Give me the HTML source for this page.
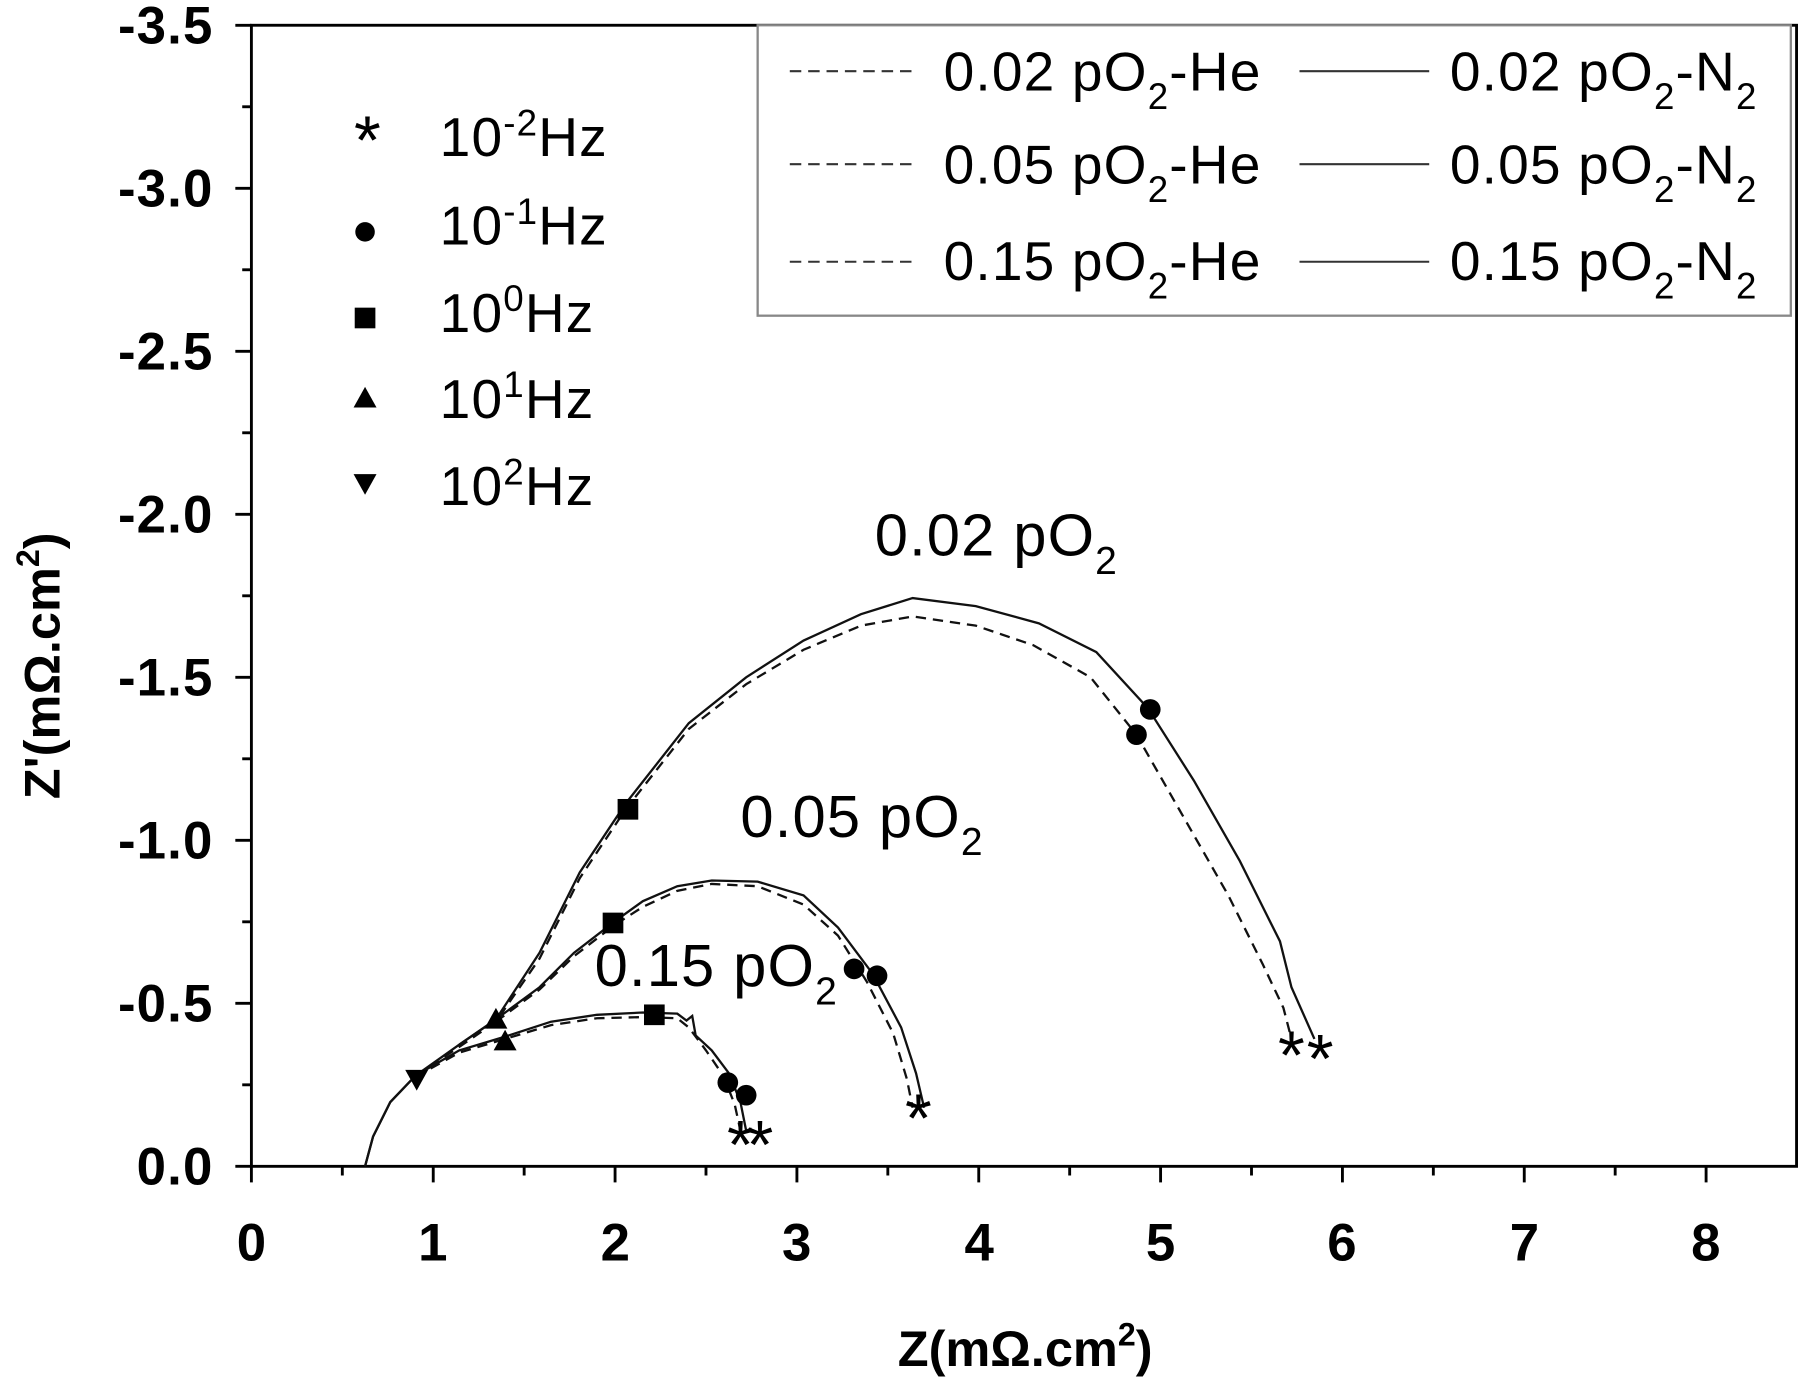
<!DOCTYPE html>
<html><head><style>html,body{margin:0;padding:0;background:#fff}svg{display:block}</style></head><body>
<svg width="1800" height="1381" viewBox="0 0 1568 1203" xmlns="http://www.w3.org/2000/svg" font-family="Liberation Sans, Arial, sans-serif">
<rect width="1568" height="1203" fill="#fff"/>
<rect x="219" y="22" width="1346" height="994" fill="none" stroke="#000" stroke-width="2.5"/>
<g stroke="#000" stroke-width="2.5">
<line x1="219" y1="1016" x2="219" y2="1030"/><line x1="377.4" y1="1016" x2="377.4" y2="1030"/><line x1="535.8" y1="1016" x2="535.8" y2="1030"/><line x1="694.2" y1="1016" x2="694.2" y2="1030"/><line x1="852.6" y1="1016" x2="852.6" y2="1030"/><line x1="1011" y1="1016" x2="1011" y2="1030"/><line x1="1169.4" y1="1016" x2="1169.4" y2="1030"/><line x1="1327.8" y1="1016" x2="1327.8" y2="1030"/><line x1="1486.2" y1="1016" x2="1486.2" y2="1030"/>
<line x1="298.2" y1="1016" x2="298.2" y2="1024"/><line x1="456.6" y1="1016" x2="456.6" y2="1024"/><line x1="615" y1="1016" x2="615" y2="1024"/><line x1="773.4" y1="1016" x2="773.4" y2="1024"/><line x1="931.8" y1="1016" x2="931.8" y2="1024"/><line x1="1090.2" y1="1016" x2="1090.2" y2="1024"/><line x1="1248.6" y1="1016" x2="1248.6" y2="1024"/><line x1="1407" y1="1016" x2="1407" y2="1024"/>
<line x1="205" y1="1016" x2="219" y2="1016"/><line x1="205" y1="874" x2="219" y2="874"/><line x1="205" y1="732" x2="219" y2="732"/><line x1="205" y1="590" x2="219" y2="590"/><line x1="205" y1="448" x2="219" y2="448"/><line x1="205" y1="306" x2="219" y2="306"/><line x1="205" y1="164" x2="219" y2="164"/><line x1="205" y1="22" x2="219" y2="22"/>
<line x1="211" y1="945" x2="219" y2="945"/><line x1="211" y1="803" x2="219" y2="803"/><line x1="211" y1="661" x2="219" y2="661"/><line x1="211" y1="519" x2="219" y2="519"/><line x1="211" y1="377" x2="219" y2="377"/><line x1="211" y1="235" x2="219" y2="235"/><line x1="211" y1="93" x2="219" y2="93"/>
</g>
<g font-size="46" font-weight="bold" text-anchor="end" letter-spacing="1">
<text x="186" y="1032">0.0</text><text x="186" y="890">-0.5</text><text x="186" y="748">-1.0</text><text x="186" y="606">-1.5</text><text x="186" y="464">-2.0</text><text x="186" y="322">-2.5</text><text x="186" y="180">-3.0</text><text x="186" y="38">-3.5</text>
</g>
<g font-size="46" font-weight="bold" text-anchor="middle">
<text x="219" y="1098">0</text><text x="377" y="1098">1</text><text x="536" y="1098">2</text><text x="694" y="1098">3</text><text x="853" y="1098">4</text><text x="1011" y="1098">5</text><text x="1169" y="1098">6</text><text x="1328" y="1098">7</text><text x="1486" y="1098">8</text>
<text x="893" y="1190" font-size="44">Z(mΩ.cm<tspan font-size="28" dy="-18">2</tspan><tspan dy="18">)</tspan></text>
<text transform="translate(52,580) rotate(-90)" font-size="44">Z'(mΩ.cm<tspan font-size="28" dy="-18">2</tspan><tspan dy="18">)</tspan></text>
</g>
<rect x="660" y="22" width="900" height="253" fill="#fff" stroke="#888" stroke-width="2"/>
<g stroke="#333" stroke-width="1.8">
<line x1="688" y1="62" x2="800" y2="62" stroke-dasharray="10,6"/><line x1="688" y1="143" x2="800" y2="143" stroke-dasharray="10,6"/><line x1="688" y1="228" x2="800" y2="228" stroke-dasharray="10,6"/>
<line x1="1132" y1="62" x2="1245" y2="62"/><line x1="1132" y1="143" x2="1245" y2="143"/><line x1="1132" y1="228" x2="1245" y2="228"/>
</g>
<g font-size="48" letter-spacing="1">
<text x="822" y="79">0.02 pO<tspan font-size="32" dy="16">2</tspan><tspan dy="-16">-He</tspan></text>
<text x="822" y="160">0.05 pO<tspan font-size="32" dy="16">2</tspan><tspan dy="-16">-He</tspan></text>
<text x="822" y="244">0.15 pO<tspan font-size="32" dy="16">2</tspan><tspan dy="-16">-He</tspan></text>
<text x="1263" y="79">0.02 pO<tspan font-size="32" dy="16">2</tspan><tspan dy="-16">-N</tspan><tspan font-size="32" dy="16">2</tspan></text>
<text x="1263" y="160">0.05 pO<tspan font-size="32" dy="16">2</tspan><tspan dy="-16">-N</tspan><tspan font-size="32" dy="16">2</tspan></text>
<text x="1263" y="244">0.15 pO<tspan font-size="32" dy="16">2</tspan><tspan dy="-16">-N</tspan><tspan font-size="32" dy="16">2</tspan></text>
<text x="383" y="136">10<tspan font-size="32" dy="-18">-2</tspan><tspan dy="18">Hz</tspan></text>
<text x="383" y="213">10<tspan font-size="32" dy="-18">-1</tspan><tspan dy="18">Hz</tspan></text>
<text x="383" y="289">10<tspan font-size="32" dy="-18">0</tspan><tspan dy="18">Hz</tspan></text>
<text x="383" y="364">10<tspan font-size="32" dy="-18">1</tspan><tspan dy="18">Hz</tspan></text>
<text x="383" y="440">10<tspan font-size="32" dy="-18">2</tspan><tspan dy="18">Hz</tspan></text>
<text x="762" y="484" font-size="52">0.02 pO<tspan font-size="34" dy="16">2</tspan></text>
<text x="645" y="729" font-size="52">0.05 pO<tspan font-size="34" dy="16">2</tspan></text>
<text x="518" y="859" font-size="52">0.15 pO<tspan font-size="34" dy="16">2</tspan></text>
</g>
<g font-size="60" text-anchor="middle"><text x="320" y="143">*</text></g>
<circle cx="318" cy="202" r="8.5"/>
<rect x="309" y="268" width="18" height="18"/>
<polygon points="318,337 328,355 308,355"/>
<polygon points="308,413 328,413 318,431"/>
<g fill="none" stroke="#111" stroke-width="2">
<polyline points="318,1016 325,990 340,960 362,937 400,910 432,888 470,830 505,760 545,700 600,630 650,590 700,558 750,535 795,521 850,528 905,543 955,568 1000,617 1040,680 1080,750 1115,820 1125,860 1145,905"/>
<polyline stroke-dasharray="9,6" points="362,937 400,912 432,890 470,835 505,765 545,705 600,635 650,596 700,566 750,545 795,537 850,545 900,562 950,590 990,640 1030,710 1070,780 1100,840 1118,878 1125,905"/>
<polyline points="400,910 432,888 470,860 500,830 535,803 560,785 590,772 620,767 660,768 700,780 730,808 760,848 785,895 798,935 805,965"/>
<polyline stroke-dasharray="9,6" points="432,890 470,862 500,833 535,806 560,790 590,776 620,770 660,772 700,788 730,815 755,855 778,900 790,940 795,965"/>
<polyline points="318,1016 325,990 340,960 362,937 400,915 440,903 480,890 520,884 560,882 590,883 598,889 603,885 606,902 620,915 635,935 645,960 650,985"/>
<polyline stroke-dasharray="9,6" points="362,938 400,917 440,905 480,893 520,887 560,886 590,887 600,895 615,915 630,937 640,962 645,985"/>
</g>
<g>
<rect x="538" y="696" width="18" height="18"/><rect x="525" y="795" width="18" height="18"/><rect x="561" y="875" width="18" height="18"/>
<circle cx="1002" cy="618" r="9"/><circle cx="990" cy="640" r="9"/><circle cx="744" cy="844" r="9"/><circle cx="764" cy="850" r="9"/><circle cx="634" cy="943" r="9"/><circle cx="650" cy="954" r="9"/>
<polygon points="432,878 442,896 422,896"/><polygon points="440,897 450,915 430,915"/>
<polygon points="353,932 373,932 363,950"/>
</g>
<g font-size="60" text-anchor="middle">
<text x="1125" y="940">*</text><text x="1150" y="943">*</text><text x="800" y="995">*</text><text x="645" y="1018">*</text><text x="662" y="1018">*</text>
</g>
</svg>
</body></html>
